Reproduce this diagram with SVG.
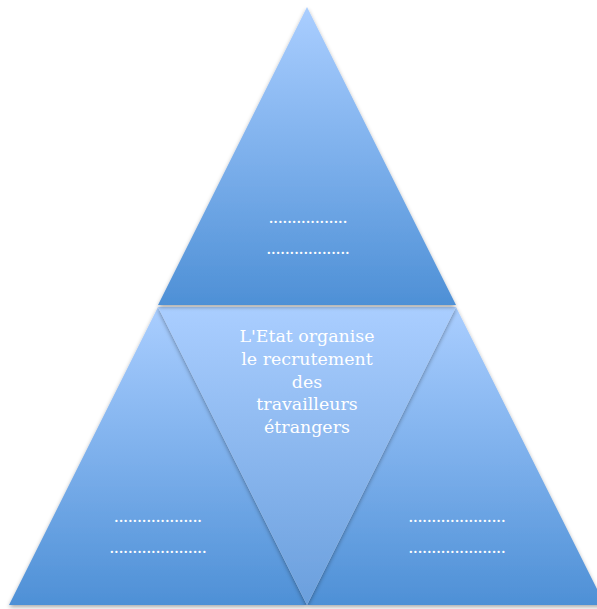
<svg xmlns="http://www.w3.org/2000/svg" width="597" height="609" viewBox="0 0 597 609">
<defs>
<linearGradient id="g" x1="0" y1="0" x2="0" y2="1">
<stop offset="0" stop-color="#AACEFF"/>
<stop offset="0.5" stop-color="#7DB0EC"/>
<stop offset="1" stop-color="#4E90D6"/>
</linearGradient>
<linearGradient id="gc" x1="0" y1="0" x2="0" y2="1">
<stop offset="0" stop-color="#AACEFF"/>
<stop offset="1" stop-color="#6A9FDD"/>
</linearGradient>
<filter id="sh" x="-10%" y="-10%" width="120%" height="125%">
<feGaussianBlur in="SourceAlpha" stdDeviation="2"/>
<feOffset dx="0" dy="2" result="b"/>
<feComponentTransfer><feFuncA type="linear" slope="0.35"/></feComponentTransfer>
<feMerge><feMergeNode/><feMergeNode in="SourceGraphic"/></feMerge>
</filter>
</defs>
<style>
text{font-family:"Liberation Serif","DejaVu Serif",serif;font-size:18.5px;fill:#FFFFFF;text-anchor:middle}
text.c{font-family:"DejaVu Serif","Liberation Serif",serif;font-size:17.4px}
</style>
<g id="left">
<polygon points="158,307 9,605 307,605" fill="url(#g)" filter="url(#sh)"/>
<text x="158" y="522">...................</text>
<text x="158" y="553">.....................</text>
</g>
<g id="right">
<polygon points="456,307 307,605 605,605" fill="url(#g)" filter="url(#sh)"/>
<text x="457" y="522">.....................</text>
<text x="457" y="553">.....................</text>
</g>
<g id="center">
<polygon points="158,307 456,307 307,605" fill="url(#gc)" filter="url(#sh)"/>
<text class="c" x="307" y="342">L'Etat organise</text>
<text class="c" x="307" y="365">le recrutement</text>
<text class="c" x="307" y="388">des</text>
<text class="c" x="307" y="410">travailleurs</text>
<text class="c" x="307" y="433">étrangers</text>
</g>
<g id="top">
<polygon points="307,7 158,305 456,305" fill="url(#g)" filter="url(#sh)"/>
<text x="308" y="223">.................</text>
<text x="308" y="254">..................</text>
</g>
<g id="connectors"/>
</svg>
